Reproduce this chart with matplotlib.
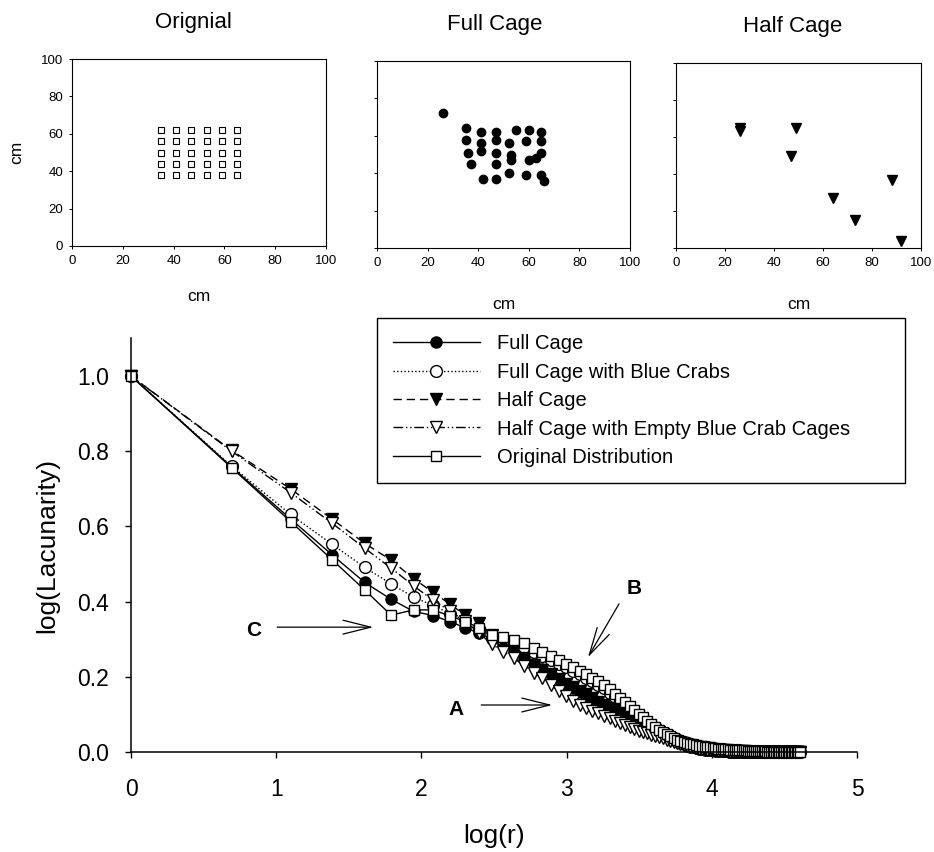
import numpy as np
import matplotlib
matplotlib.use('Agg')
import matplotlib.pyplot as plt

plt.rcParams['font.family'] = ['Liberation Sans', 'DejaVu Sans']

# ---------------- data: spatial layouts (cm) ----------------
orig_cols = [35, 41, 47, 53, 59, 65]
orig_rows = [38, 44, 50, 56, 62]

full_x = [26, 35, 41, 47, 55, 60, 65, 35, 41, 47, 52, 59, 65, 36, 41, 47, 53, 53,
          60, 63, 65, 37, 47, 52, 59, 65, 66, 42, 47]
full_y = [72, 64, 62, 62, 63, 63, 62, 58, 56, 58, 56, 57, 57, 51, 52, 51, 50, 47,
          47, 48, 51, 45, 45, 40, 39, 39, 36, 37, 37]

half_x = [26, 26, 49, 47, 64, 73, 88, 92]
half_y = [65, 63, 65, 50, 27, 15, 37, 4]

# ---------------- data: lacunarity curves ----------------
box_r = list(range(1, 101))

full_cage = [
    1.000, 0.758, 0.620, 0.524, 0.451, 0.406, 0.374, 0.363, 0.347, 0.330,
    0.316, 0.300, 0.286, 0.270, 0.251, 0.233, 0.220, 0.207, 0.194, 0.181,
    0.170, 0.160, 0.151, 0.141, 0.131, 0.123, 0.116, 0.109, 0.102, 0.095,
    0.089, 0.083, 0.077, 0.072, 0.067, 0.062, 0.057, 0.051, 0.046, 0.042,
    0.037, 0.032, 0.028, 0.024, 0.020, 0.017, 0.014, 0.012, 0.010, 0.008,
    0.007, 0.006, 0.005, 0.004, 0.004, 0.003, 0.003, 0.002, 0.002, 0.002,
    0.002, 0.001, 0.001, 0.001, 0.001, 0.001, 0.001, 0.001, 0.001, 0.001,
    0.001, 0.001, 0.000, 0.000, 0.000, 0.000, 0.000, 0.000, 0.000, 0.000,
    0.000, 0.000, 0.000, 0.000, 0.000, 0.000, 0.000, 0.000, 0.000, 0.000,
    0.000, 0.000, 0.000, 0.000, 0.000, 0.000, 0.000, 0.000, 0.000, 0.000]

full_cage_crabs = [
    1.000, 0.760, 0.632, 0.552, 0.491, 0.447, 0.412, 0.390, 0.368, 0.350,
    0.328, 0.303, 0.297, 0.289, 0.280, 0.267, 0.255, 0.244, 0.235, 0.226,
    0.216, 0.207, 0.198, 0.189, 0.179, 0.169, 0.158, 0.147, 0.136, 0.125,
    0.115, 0.105, 0.096, 0.087, 0.079, 0.071, 0.063, 0.057, 0.051, 0.045,
    0.040, 0.036, 0.032, 0.029, 0.026, 0.023, 0.021, 0.019, 0.017, 0.016,
    0.014, 0.013, 0.012, 0.011, 0.010, 0.009, 0.008, 0.008, 0.007, 0.006,
    0.006, 0.005, 0.005, 0.004, 0.004, 0.004, 0.003, 0.003, 0.003, 0.003,
    0.002, 0.002, 0.002, 0.002, 0.002, 0.001, 0.001, 0.001, 0.001, 0.001,
    0.001, 0.001, 0.001, 0.001, 0.001, 0.001, 0.000, 0.000, 0.000, 0.000,
    0.000, 0.000, 0.000, 0.000, 0.000, 0.000, 0.000, 0.000, 0.000, 0.000]

half_cage = [
    1.000, 0.802, 0.700, 0.619, 0.555, 0.510, 0.461, 0.425, 0.393, 0.364,
    0.342, 0.312, 0.290, 0.273, 0.250, 0.232, 0.219, 0.207, 0.195, 0.182,
    0.172, 0.162, 0.153, 0.143, 0.133, 0.125, 0.118, 0.111, 0.104, 0.097,
    0.091, 0.084, 0.078, 0.073, 0.068, 0.063, 0.058, 0.052, 0.047, 0.043,
    0.038, 0.033, 0.029, 0.025, 0.021, 0.018, 0.015, 0.012, 0.010, 0.008,
    0.007, 0.006, 0.005, 0.004, 0.004, 0.003, 0.003, 0.002, 0.002, 0.002,
    0.001, 0.001, 0.001, 0.001, 0.001, 0.001, 0.001, 0.001, 0.001, 0.001,
    0.000, 0.000, 0.000, 0.000, 0.000, 0.000, 0.000, 0.000, 0.000, 0.000,
    0.000, 0.000, 0.000, 0.000, 0.000, 0.000, 0.000, 0.000, 0.000, 0.000,
    0.000, 0.000, 0.000, 0.000, 0.000, 0.000, 0.000, 0.000, 0.000, 0.000]

half_cage_empty = [
    1.000, 0.800, 0.690, 0.608, 0.542, 0.489, 0.442, 0.404, 0.375, 0.348,
    0.316, 0.287, 0.267, 0.249, 0.229, 0.211, 0.196, 0.179, 0.162, 0.148,
    0.135, 0.125, 0.117, 0.110, 0.103, 0.096, 0.090, 0.083, 0.077, 0.071,
    0.066, 0.061, 0.057, 0.053, 0.050, 0.046, 0.043, 0.040, 0.036, 0.033,
    0.030, 0.027, 0.024, 0.021, 0.019, 0.016, 0.014, 0.012, 0.010, 0.009,
    0.008, 0.007, 0.006, 0.005, 0.004, 0.004, 0.003, 0.003, 0.002, 0.002,
    0.002, 0.001, 0.001, 0.001, 0.001, 0.001, 0.001, 0.001, 0.000, 0.000,
    0.000, 0.000, 0.000, 0.000, 0.000, 0.000, 0.000, 0.000, 0.000, 0.000,
    0.000, 0.000, 0.000, 0.000, 0.000, 0.000, 0.000, 0.000, 0.000, 0.000,
    0.000, 0.000, 0.000, 0.000, 0.000, 0.000, 0.000, 0.000, 0.000, 0.000]

original = [
    1.000, 0.756, 0.613, 0.511, 0.431, 0.364, 0.378, 0.378, 0.362, 0.347,
    0.330, 0.311, 0.306, 0.299, 0.290, 0.277, 0.265, 0.254, 0.244, 0.235,
    0.225, 0.216, 0.207, 0.198, 0.188, 0.178, 0.167, 0.155, 0.144, 0.133,
    0.122, 0.111, 0.101, 0.092, 0.083, 0.074, 0.066, 0.059, 0.053, 0.047,
    0.042, 0.037, 0.033, 0.030, 0.027, 0.024, 0.022, 0.020, 0.018, 0.017,
    0.015, 0.014, 0.013, 0.012, 0.011, 0.010, 0.009, 0.008, 0.008, 0.007,
    0.007, 0.006, 0.006, 0.005, 0.005, 0.005, 0.004, 0.004, 0.004, 0.003,
    0.003, 0.003, 0.003, 0.002, 0.002, 0.002, 0.002, 0.002, 0.002, 0.001,
    0.001, 0.001, 0.001, 0.001, 0.001, 0.001, 0.001, 0.001, 0.001, 0.001,
    0.001, 0.000, 0.000, 0.000, 0.000, 0.000, 0.000, 0.000, 0.000, 0.000]

panel_titles = ['Orignial', 'Full Cage', 'Half Cage']
series_labels = ['Full Cage', 'Full Cage with Blue Crabs', 'Half Cage',
                 'Half Cage with Empty Blue Crab Cages', 'Original Distribution']

# ---------------- figure ----------------
W, H = 934, 852
fig = plt.figure(figsize=(W / 100, H / 100), dpi=100)


def px_box(l, t, r, b):
    return [l / W, 1 - b / H, (r - l) / W, (b - t) / H]


top_boxes = [(72, 59, 326, 246), (377, 61, 630, 248), (676, 63, 921, 248)]
title_x = [0.48, 0.465, 0.475]
xlab_pad = [16, 20, 20]
top_axes = [fig.add_axes(px_box(*b)) for b in top_boxes]

gx, gy = np.meshgrid(orig_cols, orig_rows)
top_axes[0].plot(gx.ravel(), gy.ravel(), ls='none', marker='s', ms=4.2,
                 mfc='white', mec='black', mew=0.8)
top_axes[1].plot(full_x, full_y, ls='none', marker='o', ms=6, mfc='black',
                 mec='black')
top_axes[2].plot(half_x, half_y, ls='none', marker='v', ms=6.5, mfc='black',
                 mec='black')

for i, ax in enumerate(top_axes):
    ax.set_xlim(0, 100)
    ax.set_ylim(0, 100)
    ax.set_xticks(range(0, 101, 20))
    ax.set_yticks(range(0, 101, 20))
    ax.tick_params(direction='out', length=2.5, width=0.7, labelsize=9.5,
                   pad=4)
    for s in ax.spines.values():
        s.set_linewidth(0.8)
    ax.set_title(panel_titles[i], fontsize=16, pad=22.5, x=title_x[i])
    ax.set_xlabel('cm', fontsize=12.5, labelpad=xlab_pad[i])
    if i == 0:
        ax.set_ylabel('cm', fontsize=12.5, labelpad=12)
    else:
        ax.set_yticklabels([])

# ---------------- main lacunarity plot ----------------
ax = fig.add_axes(px_box(131, 338.4, 857, 752))
log_r = np.log(box_r)

styles = [
    dict(ls='-', marker='o', mfc='black'),
    dict(ls=(0, (1, 1.6)), marker='o', mfc='white'),
    dict(ls=(0, (6, 3.5)), marker='v', mfc='black'),
    dict(ls=(0, (7, 2, 1, 2, 1, 2)), marker='v', mfc='white'),
    dict(ls='-', marker='s', mfc='white'),
]
series = [full_cage, full_cage_crabs, half_cage, half_cage_empty, original]
sizes = [8, 8.5, 8.5, 8.5, 7.5]
handles = []
for vals, st, lab, ms in zip(series, styles, series_labels, sizes):
    h, = ax.plot(log_r, vals, color='black', lw=1.0, ms=ms, mec='black',
                 mew=1.0, clip_on=False, label=lab, **st)
    handles.append(h)

ax.set_xlim(0, 5)
ax.set_ylim(0, 1.1)
ax.set_xticks([0, 1, 2, 3, 4, 5])
ax.set_yticks([0.0, 0.2, 0.4, 0.6, 0.8, 1.0])
ax.set_yticklabels(['0.0', '0.2', '0.4', '0.6', '0.8', '1.0'])
ax.spines['top'].set_visible(False)
ax.spines['right'].set_visible(False)
for s in ('left', 'bottom'):
    ax.spines[s].set_linewidth(1.1)
ax.tick_params(direction='out', length=4, width=1.0, labelsize=16.5)
ax.tick_params(axis='y', pad=12)
ax.tick_params(axis='x', pad=15)
ax.set_xlabel('log(r)', fontsize=19, labelpad=16)
ax.set_ylabel('log(Lacunarity)', fontsize=19, labelpad=13)

# annotations
arrow = dict(arrowstyle='->, head_length=1.0, head_width=0.25',
             color='black', lw=0.9, mutation_scale=20, shrinkA=0, shrinkB=0)
ax.text(0.848, 0.324, 'C', fontsize=15, fontweight='bold', ha='center',
        va='center')
ax.annotate('', xy=(1.669, 0.332), xytext=(1.007, 0.332), arrowprops=arrow)
ax.text(2.241, 0.112, 'A', fontsize=15, fontweight='bold', ha='center',
        va='center')
ax.annotate('', xy=(2.901, 0.125), xytext=(2.412, 0.125), arrowprops=arrow)
ax.text(3.464, 0.435, 'B', fontsize=15, fontweight='bold', ha='center',
        va='center')
ax.annotate('', xy=(3.147, 0.252), xytext=(3.361, 0.394), arrowprops=arrow)

leg = fig.legend(handles=handles, loc='upper left',
                 bbox_to_anchor=(377 / W, 1 - 480 / H, (905 - 377) / W,
                                 (480 - 318) / H),
                 mode='expand', borderaxespad=0, fontsize=14.5,
                 handlelength=4.3, handletextpad=0.85, labelspacing=0.47,
                 borderpad=0.8, numpoints=1, fancybox=False,
                 edgecolor='black', framealpha=1)
leg.get_frame().set_linewidth(1.0)

fig.savefig('out.png', dpi=100)
